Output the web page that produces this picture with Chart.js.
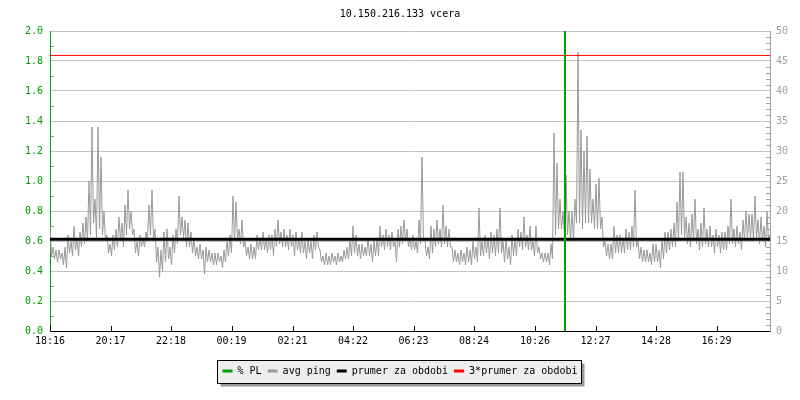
<!DOCTYPE html>
<html>
<head>
<meta charset="utf-8">
<script src="https://cdn.jsdelivr.net/npm/chart.js@4"></script>
<style>
html, body { margin: 0; padding: 0; background: #fff; }
</style>
</head>
<body>
<canvas id="myChart" width="800" height="400"></canvas>
<script>
// one bin every 6 minutes, starting 18:16 (vcera); each bin has a max and a min reading
var sampleMinutes = 6;
var tickMinutes = [0, 121, 242, 363, 485, 606, 727, 848, 970, 1091, 1212, 1333];
var tickLabels = ['18:16', '20:17', '22:18', '00:19', '02:21', '04:22', '06:23', '08:24', '10:26', '12:27', '14:28', '16:29'];

// avg ping [ms], right axis - upper reading of each bin
var pingMax = [
    17.5, 14, 13.5, 13.5, 13, 14, 16, 15, 17.5, 15.5,
    16.5, 18, 19, 25, 34, 22, 34, 29, 20, 16,
    14.5, 16, 17, 19, 18, 21, 23.5, 20, 17, 15,
    16, 15.5, 16.5, 21, 23.5, 17, 14, 13.5, 16.5, 17,
    14, 16, 17, 22.5, 19, 18.5, 18, 16.5, 15.5, 14,
    14.5, 13.5, 14, 13.5, 13, 13, 13, 12.5, 13.5, 15,

    16, 22.5, 21.5, 17, 18.5, 15, 14, 14.5, 14, 16,
    15.5, 16.5, 15.5, 16, 16, 17, 18.5, 16.5, 17, 16,
    17, 16, 16.5, 15.5, 16.5, 15, 15.5, 15, 16, 16.5,
    13.5, 12.5, 13, 12.5, 13, 12.5, 13, 12.5, 13.5, 14,
    15, 17.5, 16, 14.5, 14.5, 14, 15.5, 14.5, 15, 15.5,
    17.5, 16, 17, 16, 16.5, 15, 17, 17.5, 18.5, 17,

    15.5, 16, 15, 18.5, 29, 15, 14, 17.5, 17, 18.5,
    17, 21, 17.5, 17, 14, 13.5, 13, 13.5, 13, 14,
    13.5, 15, 14, 20.5, 15, 16, 15.5, 16.5, 16, 17,
    20.5, 15, 15.5, 14, 16, 15.5, 17, 16.5, 19, 16,
    17.5, 15, 17.5, 14, 13, 13, 13, 14.5, 33, 28,
    22, 20, 26, 20, 20, 22, 46.5, 33.5, 30, 32.5,

    27, 22, 24.5, 25.5, 19, 15, 14.5, 14.5, 17.5, 16,
    16, 15.5, 17, 16.5, 17.5, 23.5, 15, 14, 13.5, 13.5,
    13, 14.5, 14.5, 13.5, 15.5, 16.5, 16.5, 17, 18, 21.5,
    26.5, 26.5, 19, 18, 19.5, 22, 17, 18, 20.5, 17,
    17.5, 16, 17, 16, 16.5, 16.5, 17.5, 22, 17, 17.5,
    16.5, 18.5, 20, 19.5, 19.5, 22.5, 18.5, 19, 17.5, 20,
    16
];

// avg ping [ms], right axis - lower reading of each bin
var pingMin = [
    12.5, 12, 11.5, 12, 11, 10.5, 13, 12.5, 13.5, 12.5,
    14, 14.5, 15, 16, 18, 15.5, 17, 16, 15, 13,
    12.5, 13.5, 14, 15, 14, 16, 17, 16, 13, 12.5,
    14, 14, 15, 16, 15, 11.5, 9, 10, 11.5, 12,
    11, 13, 14.5, 16, 15.5, 14, 14, 13, 12.5, 12,
    12, 9.5, 11.5, 11.5, 11, 11, 11.5, 10.5, 11.5, 12.5,

    13, 15, 15, 14.5, 14, 12.5, 12, 12, 12, 13.5,
    13.5, 13.5, 13, 13.5, 12.5, 14, 14.5, 14, 14, 13.5,
    14, 12.5, 13.5, 13, 13, 12, 13, 12, 13.5, 14,
    11.5, 11, 11, 11, 11.5, 11, 11.5, 11.5, 12, 12,
    12.5, 13, 12.5, 12, 12.5, 12.5, 12.5, 11.5, 12.5, 12.5,
    14, 13.5, 14, 13.5, 14, 11.5, 14, 14.5, 15, 14,

    13.5, 13.5, 13, 14.5, 15, 12.5, 12, 13, 14, 14.5,
    14, 14.5, 14, 14, 11.5, 11.5, 11, 11.5, 11, 11.5,
    11, 12, 11.5, 12.5, 12.5, 13, 12, 13, 12.5, 13,
    13, 11.5, 12, 11, 12.5, 12.5, 14, 13.5, 14, 13.5,
    13.5, 12.5, 13, 12, 11.5, 11.5, 11, 12, 16, 17,
    17, 16, 16, 15, 15, 18, 18, 17, 18, 18,

    18, 17, 17, 17, 14, 12.5, 12, 12, 13, 13,
    13, 13, 13.5, 13.5, 14, 14, 12, 11.5, 11.5, 11.5,
    11, 11.5, 11.5, 10.5, 12, 13, 13.5, 14, 14, 15,
    16, 15.5, 14.5, 14, 15, 14.5, 13.5, 14, 14.5, 14,
    14, 13, 14, 13, 13.5, 13.5, 14.5, 14.5, 14, 14.5,
    13.5, 15, 15.5, 15.5, 15, 15.5, 14.5, 15, 14, 15,
    14
];

// packet loss [%], left axis
var plMinutes = [1029, 1029, 1031, 1031];
var plValues = [0, 100, 1, 0];

var prumer = 15.31;
var periodMinutes = 1440;

var font = 'DejaVu Sans Mono';
Chart.defaults.font.family = font;
Chart.defaults.font.size = 10;

function pingPoints() {
    var pts = [];
    pingMax.forEach(function(v, i) {
        pts.push({ x: i * sampleMinutes, y: v });
        if (i < pingMin.length && i * sampleMinutes + sampleMinutes / 2 <= periodMinutes) {
            pts.push({ x: i * sampleMinutes + sampleMinutes / 2, y: pingMin[i] });
        }
    });
    return pts;
}

function plPoints() {
    return plMinutes.map(function(m, i) {
        return { x: m, y: plValues[i] };
    });
}

var axisMarks = {
    id: 'axisMarks',
    beforeDatasetsDraw: function(chart) {
        var ctx = chart.ctx;
        var yl = chart.scales.y, yr = chart.scales.y1, xs = chart.scales.x;
        ctx.save();
        ctx.lineWidth = 1;
        ctx.strokeStyle = '#a0a0a0';
        ctx.beginPath();
        for (var v = 1; v < 20; v += 2) {
            var py = Math.round(yl.getPixelForValue(v / 10)) + 0.5;
            ctx.moveTo(yl.right + 1, py);
            ctx.lineTo(yl.right + 4, py);
        }
        for (var m = 1; m < 50; m++) {
            if (m % 5 === 0) continue;
            var py2 = Math.round(yr.getPixelForValue(m)) + 0.5;
            ctx.moveTo(yr.left - 4, py2);
            ctx.lineTo(yr.left, py2);
        }
        ctx.stroke();
        ctx.strokeStyle = '#000';
        ctx.beginPath();
        tickMinutes.forEach(function(t) {
            var px = Math.round(xs.getPixelForValue(t)) + 0.5;
            ctx.moveTo(px, xs.top);
            ctx.lineTo(px, xs.top - 5);
        });
        ctx.stroke();
        ctx.restore();
    }
};

var legendBox = {
    id: 'legendBox',
    beforeDraw: function(chart) {
        var boxes = chart.legend && chart.legend.legendHitBoxes;
        if (!boxes || !boxes.length) return;
        var left = Infinity, right = -Infinity, top = Infinity, bottom = -Infinity;
        boxes.forEach(function(b) {
            left = Math.min(left, b.left);
            right = Math.max(right, b.left + b.width);
            top = Math.min(top, b.top);
            bottom = Math.max(bottom, b.top + b.height);
        });
        left = Math.round(left - 6) + 0.5;
        right = Math.round(right + 4) + 0.5;
        top = Math.round(top - 6) + 0.5;
        bottom = Math.round(bottom + 7) + 0.5;
        var ctx = chart.ctx;
        ctx.save();
        ctx.fillStyle = '#9a9a9a';
        ctx.fillRect(left + 3, top + 3, right - left, bottom - top);
        ctx.fillStyle = '#eeeeee';
        ctx.fillRect(left, top, right - left, bottom - top);
        ctx.strokeStyle = '#000';
        ctx.lineWidth = 1;
        ctx.strokeRect(left, top, right - left, bottom - top);
        ctx.restore();
    }
};

var config = {
    type: 'line',
    data: {
        datasets: [{
            label: '% PL',
            yAxisID: 'y',
            borderColor: '#00a000',
            backgroundColor: '#00a000',
            borderWidth: 1,
            order: 0,
            data: plPoints()
        }, {
            label: 'avg ping',
            yAxisID: 'y1',
            borderColor: '#999999',
            backgroundColor: '#999999',
            borderWidth: 1,
            order: 3,
            data: pingPoints()
        }, {
            label: 'prumer za obdobi',
            yAxisID: 'y1',
            borderColor: '#000000',
            backgroundColor: '#000000',
            borderWidth: 3,
            order: 1,
            data: [{ x: 0, y: prumer }, { x: periodMinutes, y: prumer }]
        }, {
            label: '3*prumer za obdobi',
            yAxisID: 'y1',
            borderColor: '#ff0000',
            backgroundColor: '#ff0000',
            borderWidth: 1,
            order: 2,
            data: [{ x: 0, y: 3 * prumer }, { x: periodMinutes, y: 3 * prumer }]
        }]
    },
    options: {
        responsive: false,
        animation: false,
        events: [],
        layout: { padding: { left: 0, right: 0, top: 0, bottom: 14 } },
        elements: {
            point: { radius: 0 },
            line: { tension: 0 }
        },
        scales: {
            x: {
                type: 'linear',
                min: 0,
                max: periodMinutes,
                afterBuildTicks: function(scale) {
                    scale.ticks = tickMinutes.map(function(v) { return { value: v }; });
                },
                afterFit: function(scale) { scale.height = 29; },
                ticks: {
                    autoSkip: false,
                    maxRotation: 0,
                    color: '#000',
                    padding: 4,
                    callback: function(v) { return tickLabels[tickMinutes.indexOf(v)]; }
                },
                grid: { display: false, drawTicks: false },
                border: { color: '#000', width: 1 }
            },
            y: {
                position: 'left',
                min: 0,
                max: 2,
                afterFit: function(scale) { scale.width = 50; },
                ticks: {
                    stepSize: 0.2,
                    color: '#00a000',
                    padding: 7,
                    callback: function(v) { return v.toFixed(1); }
                },
                grid: {
                    drawTicks: false,
                    color: function(c) { return c.tick && c.tick.value === 0 ? 'rgba(0,0,0,0)' : '#c4c4c4'; }
                },
                border: { color: '#00a000' }
            },
            y1: {
                position: 'right',
                min: 0,
                max: 50,
                afterFit: function(scale) { scale.width = 30; },
                ticks: { stepSize: 5, color: '#a0a0a0', padding: 6 },
                grid: { drawOnChartArea: false, drawTicks: false },
                border: { color: '#a0a0a0' }
            }
        },
        plugins: {
            title: {
                display: true,
                text: '10.150.216.133 vcera',
                color: '#000',
                font: { family: font, size: 10, weight: 'normal' },
                padding: { top: 8, bottom: 11 }
            },
            legend: {
                position: 'bottom',
                labels: {
                    color: '#000',
                    boxWidth: 10,
                    boxHeight: 3,
                    padding: 6,
                    font: { family: font, size: 10 },
                    generateLabels: function(chart) {
                        return chart.data.datasets.map(function(ds, i) {
                            return {
                                text: ds.label,
                                fillStyle: ds.borderColor,
                                strokeStyle: ds.borderColor,
                                lineWidth: 0,
                                hidden: false,
                                datasetIndex: i,
                                fontColor: '#000'
                            };
                        });
                    }
                }
            },
            tooltip: { enabled: false }
        }
    },
    plugins: [axisMarks, legendBox]
};

window.myChart = new Chart(document.getElementById('myChart').getContext('2d'), config);
</script>
</body>
</html>
